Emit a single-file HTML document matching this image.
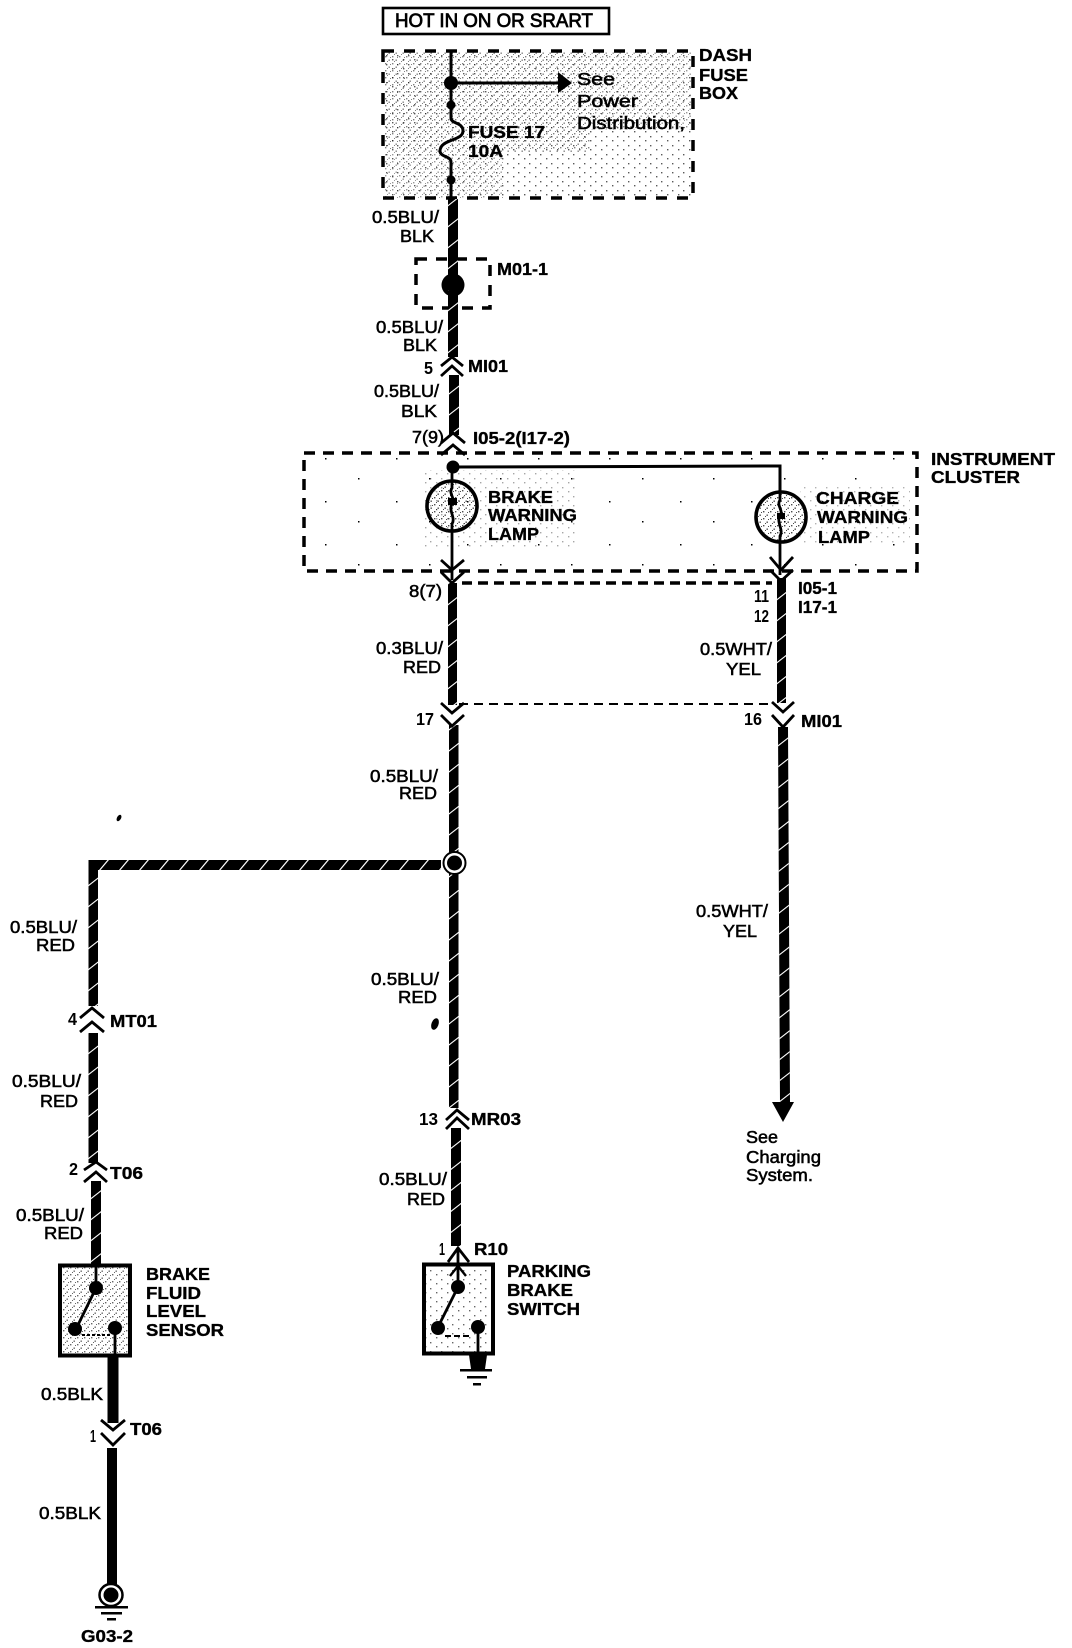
<!DOCTYPE html>
<html><head><meta charset="utf-8"><style>
html,body{margin:0;padding:0;background:#fff}
svg{display:block}
text{font-family:"Liberation Sans",sans-serif;font-size:17.5px;fill:#000;stroke:#000;stroke-width:.55px}
.b{font-weight:bold;stroke-width:.35px}
.n{font-weight:bold;stroke-width:0}
</style></head><body>
<svg xmlns="http://www.w3.org/2000/svg" width="1072" height="1648" viewBox="0 0 1072 1648">
<defs>
<pattern id="tv" patternUnits="userSpaceOnUse" width="10" height="21" patternTransform="skewY(-38)"><rect y="9" width="10" height="1.4" fill="#fff"/></pattern>
<pattern id="th" patternUnits="userSpaceOnUse" width="20" height="10" patternTransform="skewX(-40)"><rect x="9" width="1.6" height="10" fill="#fff"/></pattern>
<pattern id="d1" patternUnits="userSpaceOnUse" width="7" height="7"><rect x="0" y="0" width="1.4" height="1.4"/><rect x="3.5" y="3.5" width="1.4" height="1.4"/><rect x="5" y="1" width="1" height="1"/><rect x="2" y="5" width="1" height="1"/></pattern>
<pattern id="d2" patternUnits="userSpaceOnUse" width="11" height="9"><rect x="1" y="1" width="1.4" height="1.4"/><rect x="7" y="5" width="1.4" height="1.4"/></pattern>
<pattern id="d3" patternUnits="userSpaceOnUse" width="71" height="43"><rect x="3" y="5" width="1.5" height="1.5"/><rect x="41" y="28" width="1.5" height="1.5"/></pattern>
</defs>

<!-- stipple -->
<rect x="384" y="52" width="307" height="146" fill="url(#d2)" opacity=".65"/>
<rect x="384" y="52" width="206" height="100" fill="url(#d1)" opacity=".5"/>
<rect x="384" y="152" width="120" height="46" fill="url(#d1)" opacity=".4"/>
<rect x="590" y="52" width="101" height="78" fill="url(#d1)" opacity=".4"/>
<rect x="306" y="455" width="609" height="115" fill="url(#d3)"/>
<rect x="425" y="470" width="150" height="80" fill="url(#d2)" opacity=".35"/>
<rect x="800" y="485" width="110" height="60" fill="url(#d2)" opacity=".3"/>
<circle cx="452" cy="506" r="23" fill="url(#d1)" opacity=".7"/>
<circle cx="781" cy="517" r="23" fill="url(#d1)" opacity=".7"/>
<rect x="60" y="1266" width="69" height="89" fill="url(#d1)" opacity=".6"/>
<rect x="424" y="1265" width="68" height="88" fill="url(#d2)" opacity=".6"/>

<!-- boxes -->
<rect x="383" y="8" width="226" height="26" fill="#fff" stroke="#000" stroke-width="2.6"/>
<g fill="none" stroke="#000">
<rect x="383" y="51" width="310" height="147" stroke-width="3.5" stroke-dasharray="11 10"/>
<rect x="416" y="259" width="74" height="49" stroke-width="3.5" stroke-dasharray="11 9"/>
<rect x="304" y="453" width="613" height="118" stroke-width="3.5" stroke-dasharray="11 8"/>
<path d="M462 583H772" stroke-width="3.5" stroke-dasharray="10 6"/>
<path d="M459 704H770" stroke-width="2" stroke-dasharray="9 6"/>
<!-- fuse -->
<path d="M451 50V118C451 124 463 122 463 131C463 141 440 139 440 151C440 157 451 156 451 162V200" stroke-width="3"/>
<path d="M451 83H562" stroke-width="3"/>
<path d="M453 467L780 466V492" stroke-width="3"/>
<ellipse cx="452" cy="506" rx="25" ry="25" stroke-width="3.6"/>
<ellipse cx="781" cy="517" rx="25" ry="25" stroke-width="3.6"/>
<path d="M452 467V488C448 494 456 498 452 504C448 510 456 518 452 524V580" stroke-width="2.8"/>
<path d="M780 488V500C776 506 784 510 780 516C776 522 784 530 780 536V575" stroke-width="2.8"/>
<!-- switch boxes -->
<rect x="60" y="1265.500" width="70" height="90" stroke-width="4"/>
<rect x="424" y="1264.500" width="69" height="89" stroke-width="4"/>
</g>
<path d="M558 72L572 83L558 93Z"/>
<circle cx="451" cy="83" r="7"/><circle cx="451" cy="105" r="4.500"/><circle cx="451" cy="180" r="4.500"/>
<circle cx="453" cy="285" r="11.500"/>
<circle cx="453" cy="467" r="6.500"/>
<rect x="448" y="498" width="9" height="7"/><rect x="777" y="513" width="8" height="6"/>

<!-- wires -->
<g>
<path d="M448 199H458V276H448Z M448 290H458V357H448Z M449 375H459V435H449Z M448 583H457V705H448Z M449 725H458.500V1108H449Z M777 578H786V703H777Z M778 727H788L790 1104H780Z M88.500 860H98V1006H88.500Z M88.500 1033H98V1163H88.500Z M91 1181H101V1265H91Z M451 1128H461V1246H451Z"/>
<path fill="url(#tv)" d="M448 199H458V276H448Z M448 290H458V357H448Z M449 375H459V435H449Z M448 583H457V705H448Z M449 725H458.500V1108H449Z M777 578H786V703H777Z M778 727H788L790 1104H780Z M88.500 875H98V1006H88.500Z M88.500 1033H98V1163H88.500Z M91 1181H101V1265H91Z M451 1128H461V1246H451Z"/>
<rect x="89" y="860" width="352" height="10"/>
<rect x="95" y="860" width="346" height="10" fill="url(#th)"/>
<rect x="107.500" y="1357" width="11" height="66"/>
<rect x="107" y="1448" width="10" height="137"/>
</g>
<path d="M772 1102H794L783 1122Z"/>
<!-- splice -->
<circle cx="454.500" cy="863" r="11" fill="#fff" stroke="#000" stroke-width="2"/>
<circle cx="454.500" cy="863" r="7.500"/>
<!-- connectors -->
<g fill="none" stroke="#000" stroke-width="2.8">
<path d="M441 366L452 357L463 366M441 376L452 366L463 376"/>
<path d="M441 443L453 433L465 443M441 455L453 445L465 455"/>
<path d="M441 560L452 570L464 560M441 572L452 583L464 572"/>
<path d="M770 557L781 570L793 557M770 570L781 581L793 570"/>
<path d="M441 703L452 713L464 703M441 715L452 726L464 715"/>
<path d="M772 702L783 712L794 702M772 715L783 727L794 715"/>
<path d="M80 1018L92 1008L104 1018M80 1032L92 1022L104 1032"/>
<path d="M84 1170L96 1162L107 1170M84 1182L96 1172L107 1182"/>
<path d="M446 1120L457 1110L469 1120M446 1129L457 1118L469 1129"/>
<path d="M448 1262L458 1248L469 1262"/>
<path d="M101 1420L113 1430L125 1420M101 1433L113 1445L125 1433"/>
</g>
<!-- switches -->
<g stroke="#000" fill="none">
<path d="M96 1266V1288L77 1327M115 1328V1356" stroke-width="2.800"/>
<path d="M82 1335H112" stroke-width="2" stroke-dasharray="3 2"/>
<path d="M458 1250V1287L438 1327M478 1327V1354" stroke-width="2.800"/>
<path d="M445 1336H470" stroke-width="2" stroke-dasharray="6 3"/>
<path d="M450 1276L458 1266L466 1276" stroke-width="2.400"/>
</g>
<circle cx="96" cy="1288" r="7"/><circle cx="75" cy="1329" r="7"/><circle cx="115" cy="1328" r="7"/>
<circle cx="458" cy="1287" r="7"/><circle cx="438" cy="1328" r="7"/><circle cx="478" cy="1327" r="7"/>
<!-- grounds -->
<path d="M469 1355H487L485 1369H471Z"/>
<rect x="460" y="1369" width="32" height="2.500"/><rect x="467" y="1376" width="20" height="2.500"/><rect x="473" y="1383" width="8" height="2.500"/>
<ellipse cx="111" cy="1595" rx="11.500" ry="11" fill="#fff" stroke="#000" stroke-width="2.500"/><circle cx="111" cy="1595" r="7.500"/>
<rect x="95" y="1606" width="33" height="2.500"/><rect x="101" y="1612" width="21" height="2.500"/><rect x="107" y="1618" width="9" height="2.500"/>
<ellipse cx="435" cy="1024" rx="3.500" ry="6" transform="rotate(20 435 1024)"/>
<ellipse cx="119" cy="818" rx="2" ry="3.500" transform="rotate(30 119 818)"/>

<!-- labels -->
<text x="395" y="27" textLength="198" lengthAdjust="spacingAndGlyphs" style="font-size:19.500px;stroke-width:.8px">HOT IN ON OR SRART</text>
<text x="577" y="85" textLength="38" lengthAdjust="spacingAndGlyphs">See</text>
<text x="577" y="107" textLength="61" lengthAdjust="spacingAndGlyphs">Power</text>
<text x="577" y="129" textLength="108" lengthAdjust="spacingAndGlyphs">Distribution,</text>
<text class="b" x="468" y="138" textLength="77" lengthAdjust="spacingAndGlyphs">FUSE 17</text>
<text class="b" x="468" y="157" textLength="35" lengthAdjust="spacingAndGlyphs">10A</text>
<text class="b" x="699" y="61" textLength="53" lengthAdjust="spacingAndGlyphs">DASH</text>
<text class="b" x="699" y="81" textLength="49" lengthAdjust="spacingAndGlyphs">FUSE</text>
<text class="b" x="699" y="99" textLength="39" lengthAdjust="spacingAndGlyphs">BOX</text>
<text x="372" y="223" textLength="67" lengthAdjust="spacingAndGlyphs">0.5BLU/</text>
<text x="400" y="242" textLength="34" lengthAdjust="spacingAndGlyphs">BLK</text>
<text class="b" x="497" y="275" textLength="51" lengthAdjust="spacingAndGlyphs">M01-1</text>
<text x="376" y="333" textLength="67" lengthAdjust="spacingAndGlyphs">0.5BLU/</text>
<text x="403" y="351" textLength="34" lengthAdjust="spacingAndGlyphs">BLK</text>
<text class="n" x="424" y="374" textLength="9" lengthAdjust="spacingAndGlyphs">5</text>
<text class="b" x="468" y="372" textLength="40" lengthAdjust="spacingAndGlyphs">MI01</text>
<text x="374" y="397" textLength="65" lengthAdjust="spacingAndGlyphs">0.5BLU/</text>
<text x="401" y="417" textLength="36" lengthAdjust="spacingAndGlyphs">BLK</text>
<text x="412" y="443" textLength="32" lengthAdjust="spacingAndGlyphs">7(9)</text>
<text class="b" x="473" y="444" textLength="97" lengthAdjust="spacingAndGlyphs">I05-2(I17-2)</text>
<text class="b" x="931" y="465" textLength="124" lengthAdjust="spacingAndGlyphs">INSTRUMENT</text>
<text class="b" x="931" y="483" textLength="89" lengthAdjust="spacingAndGlyphs">CLUSTER</text>
<text class="b" x="488" y="503" textLength="65" lengthAdjust="spacingAndGlyphs">BRAKE</text>
<text class="b" x="488" y="521" textLength="89" lengthAdjust="spacingAndGlyphs">WARNING</text>
<text class="b" x="488" y="540" textLength="51" lengthAdjust="spacingAndGlyphs">LAMP</text>
<text class="b" x="816" y="504" textLength="83" lengthAdjust="spacingAndGlyphs">CHARGE</text>
<text class="b" x="817" y="523" textLength="91" lengthAdjust="spacingAndGlyphs">WARNING</text>
<text class="b" x="818" y="543" textLength="52" lengthAdjust="spacingAndGlyphs">LAMP</text>
<text x="409" y="597" textLength="33" lengthAdjust="spacingAndGlyphs">8(7)</text>
<text class="n" x="754" y="602" textLength="15" lengthAdjust="spacingAndGlyphs">11</text>
<text class="n" x="754" y="622" textLength="15" lengthAdjust="spacingAndGlyphs">12</text>
<text class="b" x="798" y="594" textLength="39" lengthAdjust="spacingAndGlyphs">I05-1</text>
<text class="b" x="798" y="613" textLength="39" lengthAdjust="spacingAndGlyphs">I17-1</text>
<text x="376" y="654" textLength="67" lengthAdjust="spacingAndGlyphs">0.3BLU/</text>
<text x="403" y="673" textLength="38" lengthAdjust="spacingAndGlyphs">RED</text>
<text x="700" y="655" textLength="72" lengthAdjust="spacingAndGlyphs">0.5WHT/</text>
<text x="726" y="675" textLength="35" lengthAdjust="spacingAndGlyphs">YEL</text>
<text class="n" x="416" y="725" textLength="18" lengthAdjust="spacingAndGlyphs">17</text>
<text class="n" x="744" y="725" textLength="18" lengthAdjust="spacingAndGlyphs">16</text>
<text class="b" x="801" y="727" textLength="41" lengthAdjust="spacingAndGlyphs">MI01</text>
<text x="370" y="782" textLength="68" lengthAdjust="spacingAndGlyphs">0.5BLU/</text>
<text x="399" y="799" textLength="38" lengthAdjust="spacingAndGlyphs">RED</text>
<text x="10" y="933" textLength="67" lengthAdjust="spacingAndGlyphs">0.5BLU/</text>
<text x="36" y="951" textLength="39" lengthAdjust="spacingAndGlyphs">RED</text>
<text class="n" x="68" y="1025" textLength="9" lengthAdjust="spacingAndGlyphs">4</text>
<text class="b" x="110" y="1027" textLength="47" lengthAdjust="spacingAndGlyphs">MT01</text>
<text x="12" y="1087" textLength="69" lengthAdjust="spacingAndGlyphs">0.5BLU/</text>
<text x="40" y="1107" textLength="38" lengthAdjust="spacingAndGlyphs">RED</text>
<text class="n" x="69" y="1175" textLength="9" lengthAdjust="spacingAndGlyphs">2</text>
<text class="b" x="110" y="1179" textLength="33" lengthAdjust="spacingAndGlyphs">T06</text>
<text x="16" y="1221" textLength="68" lengthAdjust="spacingAndGlyphs">0.5BLU/</text>
<text x="44" y="1239" textLength="39" lengthAdjust="spacingAndGlyphs">RED</text>
<text x="371" y="985" textLength="68" lengthAdjust="spacingAndGlyphs">0.5BLU/</text>
<text x="398" y="1003" textLength="39" lengthAdjust="spacingAndGlyphs">RED</text>
<text class="n" x="419" y="1125" textLength="19" lengthAdjust="spacingAndGlyphs">13</text>
<text class="b" x="471" y="1125" textLength="50" lengthAdjust="spacingAndGlyphs">MR03</text>
<text x="379" y="1185" textLength="68" lengthAdjust="spacingAndGlyphs">0.5BLU/</text>
<text x="407" y="1205" textLength="38" lengthAdjust="spacingAndGlyphs">RED</text>
<text class="n" x="439" y="1255" textLength="6" lengthAdjust="spacingAndGlyphs">1</text>
<text class="b" x="474" y="1255" textLength="34" lengthAdjust="spacingAndGlyphs">R10</text>
<text class="b" x="146" y="1280" textLength="64" lengthAdjust="spacingAndGlyphs">BRAKE</text>
<text class="b" x="146" y="1299" textLength="55" lengthAdjust="spacingAndGlyphs">FLUID</text>
<text class="b" x="146" y="1317" textLength="60" lengthAdjust="spacingAndGlyphs">LEVEL</text>
<text class="b" x="146" y="1336" textLength="78" lengthAdjust="spacingAndGlyphs">SENSOR</text>
<text class="b" x="507" y="1277" textLength="84" lengthAdjust="spacingAndGlyphs">PARKING</text>
<text class="b" x="507" y="1296" textLength="66" lengthAdjust="spacingAndGlyphs">BRAKE</text>
<text class="b" x="507" y="1315" textLength="73" lengthAdjust="spacingAndGlyphs">SWITCH</text>
<text x="41" y="1400" textLength="62" lengthAdjust="spacingAndGlyphs">0.5BLK</text>
<text class="b" x="130" y="1435" textLength="32" lengthAdjust="spacingAndGlyphs">T06</text>
<text class="n" x="90" y="1442" textLength="6" lengthAdjust="spacingAndGlyphs">1</text>
<text x="39" y="1519" textLength="62" lengthAdjust="spacingAndGlyphs">0.5BLK</text>
<text class="b" x="81" y="1642" textLength="52" lengthAdjust="spacingAndGlyphs">G03-2</text>
<text x="696" y="917" textLength="72" lengthAdjust="spacingAndGlyphs">0.5WHT/</text>
<text x="723" y="937" textLength="34" lengthAdjust="spacingAndGlyphs">YEL</text>
<text x="746" y="1143" textLength="32" lengthAdjust="spacingAndGlyphs">See</text>
<text x="746" y="1163" textLength="75" lengthAdjust="spacingAndGlyphs">Charging</text>
<text x="746" y="1181" textLength="67" lengthAdjust="spacingAndGlyphs">System.</text>
</svg>
</body></html>
